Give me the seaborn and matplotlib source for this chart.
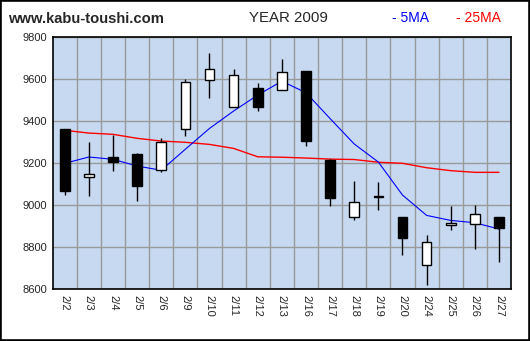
import numpy as np
import pandas as pd
import matplotlib
matplotlib.use("Agg")
import matplotlib.pyplot as plt
from matplotlib.patches import Rectangle
import seaborn as sns

# Daily OHLC for February 2009
dates = ["2/2", "2/3", "2/4", "2/5", "2/6", "2/9", "2/10", "2/11", "2/12", "2/13",
         "2/16", "2/17", "2/18", "2/19", "2/20", "2/24", "2/25", "2/26", "2/27"]
opens = [9363, 9133, 9230, 9244, 9167, 9362, 9595, 9467, 9557, 9548,
         9640, 9216, 8943, 9045, 8944, 8714, 8908, 8909, 8943]
highs = [9363, 9301, 9336, 9249, 9322, 9600, 9725, 9648, 9582, 9697,
         9640, 9220, 9116, 9111, 8944, 8859, 8998, 9003, 8943]
lows = [9050, 9046, 9165, 9022, 9160, 9330, 9512, 9467, 9450, 9548,
        9282, 8998, 8931, 8978, 8765, 8622, 8884, 8793, 8731]
closes = [9070, 9149, 9205, 9093, 9300, 9586, 9648, 9619, 9470, 9633,
          9308, 9036, 9014, 9039, 8846, 8825, 8915, 8959, 8893]

# Moving averages
ma5 = [9200, 9230, 9219, 9187, 9167, 9267, 9366, 9449, 9525, 9591,
       9536, 9413, 9292, 9206, 9049, 8952, 8928, 8917, 8887]
ma25 = [9357, 9344, 9338, 9319, 9306, 9300, 9290, 9271, 9231, 9229,
        9225, 9220, 9218, 9205, 9200, 9179, 9165, 9157, 9157]

yticks = [8600, 8800, 9000, 9200, 9400, 9600, 9800]

df = pd.DataFrame({"date": dates, "open": opens, "high": highs, "low": lows,
                   "close": closes, "ma5": ma5, "ma25": ma25})
df["x"] = np.arange(len(df))

sns.set_style("white")
plt.rcParams["font.family"] = ["Liberation Sans", "DejaVu Sans"]

fig = plt.figure(figsize=(5.30, 3.41), dpi=100)
ax = fig.add_axes([0.0994, 0.1516, 0.8648, 0.739])
ax.set_facecolor("#C6D9F0")

# moving average lines
sns.lineplot(data=df, x="x", y="ma25", ax=ax, color="#FF0000", lw=1.0, zorder=3)
sns.lineplot(data=df, x="x", y="ma5", ax=ax, color="#0000FF", lw=0.8, zorder=3)

# candlesticks
body_w = 0.40
for _, r in df.iterrows():
    ax.vlines(r["x"], r["low"], r["high"], color="black", lw=1.0, zorder=4)
    lo = min(r["open"], r["close"])
    h = abs(r["close"] - r["open"])
    face = "white" if r["close"] >= r["open"] else "black"
    ax.add_patch(Rectangle((r["x"] - body_w / 2, lo), body_w, h,
                           facecolor=face, edgecolor="black", lw=1.0, zorder=5))

ax.set_xlim(-0.5, len(df) - 0.5)
ax.set_ylim(8600, 9800)
ax.set_yticks(yticks)
ax.set_yticklabels([str(v) for v in yticks], fontsize=8)
ax.set_xticks(df["x"])
ax.set_xticklabels(dates, rotation=-90, fontsize=8)
ax.set_xticks(np.arange(0.5, len(df) - 0.5, 1), minor=True)
ax.set_xlabel("")
ax.set_ylabel("")
ax.grid(False)
ax.grid(True, which="minor", axis="x", color="#999999", lw=1.0)
ax.grid(True, which="major", axis="y", color="#999999", lw=1.0)
ax.tick_params(axis="both", which="both", length=0, pad=4)
for s in ax.spines.values():
    s.set_color("black")
    s.set_linewidth(1.2)

# header texts
fig.text(8 / 530, 1 - 19 / 341, "www.kabu-toushi.com", fontsize=10.6, fontweight="bold",
         va="center", ha="left")
fig.text(288 / 530, 1 - 18 / 341, "YEAR 2009", fontsize=10.8, va="center", ha="center")
fig.text(392 / 530, 1 - 18 / 341, "- 5MA", fontsize=10, color="#0000FF", va="center", ha="left")
fig.text(456 / 530, 1 - 18 / 341, "- 25MA", fontsize=10, color="#FF0000", va="center", ha="left")

# outer frame
fig.patches.append(Rectangle((0, 0), 1, 1, transform=fig.transFigure,
                             fill=False, edgecolor="black", lw=2.6))

fig.savefig("out.png", dpi=100)
